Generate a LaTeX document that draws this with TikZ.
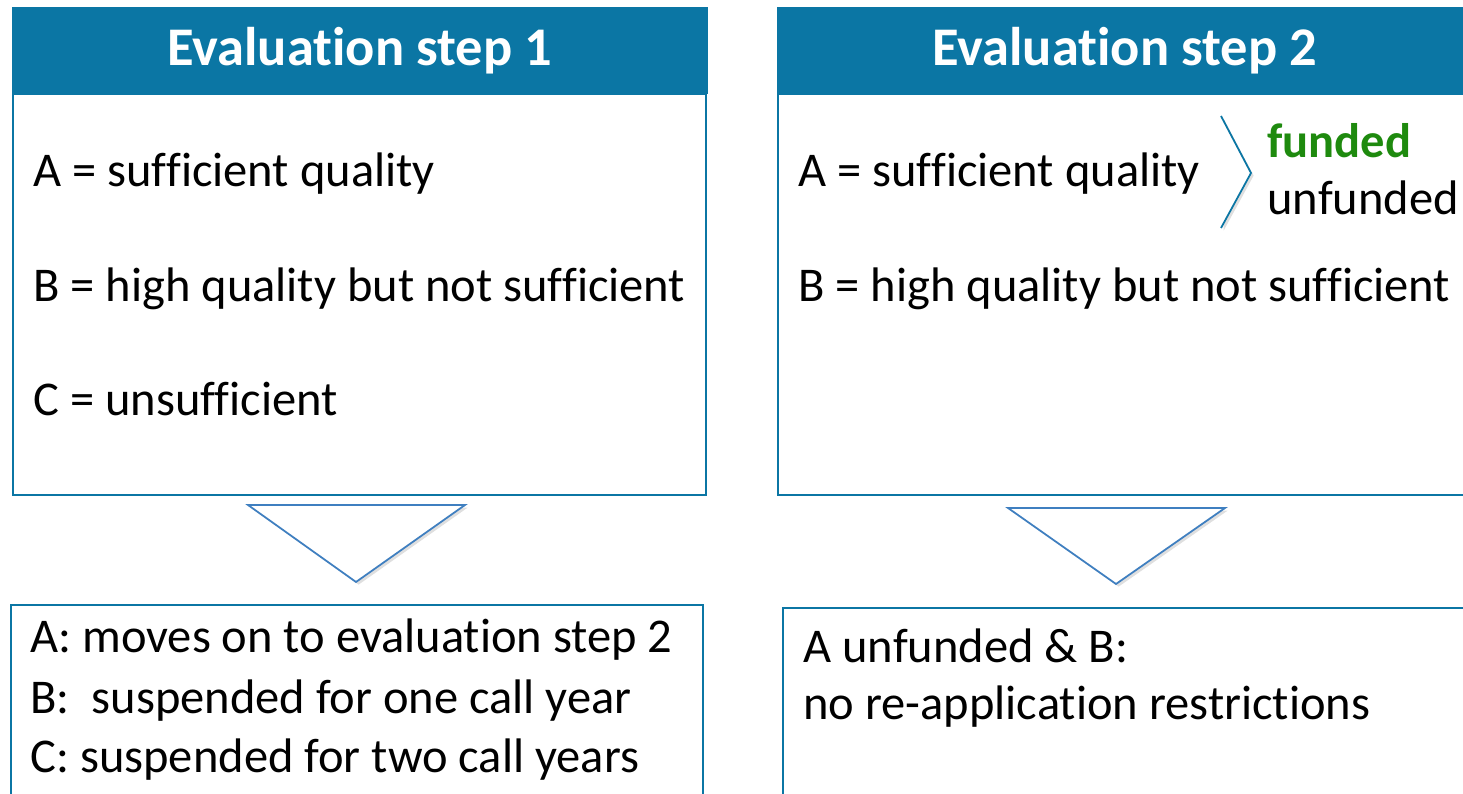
\documentclass[tikz,border=0pt]{standalone}
\usepackage{fontspec}
\setmainfont[Ligatures=NoCommon, RawFeature={-calt;-clig}]{Carlito}
\usetikzlibrary{positioning,shadows}
\definecolor{headblue}{HTML}{0B76A4}
\definecolor{arrowblue}{HTML}{3F7FC0}
\definecolor{fundgreen}{HTML}{1E8A0E}
\tikzset{
  headbox/.style={rectangle, fill=headblue, draw=headblue, text=white, font=\fontsize{31}{36}\selectfont\bfseries, anchor=north west, inner sep=0pt},
  panel/.style={rectangle, draw=headblue, line width=1.2pt, anchor=north west, inner sep=0pt},
  item/.style={anchor=base west, inner sep=0pt, font=\fontsize{27.6}{34}\selectfont},
  chevron/.style={draw=arrowblue, fill=white, line width=1pt, line join=miter,
                  drop shadow={opacity=0.25, shadow xshift=1.5pt, shadow yshift=-1.5pt}},
}
\begin{document}
\begin{tikzpicture}[x=0.02cm, y=0.02cm]
\useasboundingbox (0,0) rectangle (1463,794);
\clip (0,0) rectangle (1463,794);
%Boxes
\node[panel, minimum width=13.86cm, minimum height=8.02cm] (box1) at (12,701) {};
\node[headbox, minimum width=13.9cm, minimum height=1.72cm] (head1) at (12,787) {Evaluation step 1};
\node[panel, minimum width=13.9cm, minimum height=8.02cm] (box2) at (777,701) {};
\node[headbox, minimum width=13.9cm, minimum height=1.72cm] (head2) at (777,787) {Evaluation step 2};
\node[panel, minimum width=13.84cm, minimum height=4cm] (res1) at (10,190) {};
\node[panel, minimum width=13.9cm, minimum height=4cm] (res2) at (782,187) {};

%Texts
\node[item] (a1) at (33,607) {A = sufficient quality};
\node[item] (b1) at (33,492) {B = high quality but not sufficient};
\node[item] (c1) at (33,378) {C = unsufficient};
\node[item] (a2) at (798,607) {A = sufficient quality};
\node[item, text=fundgreen, font=\fontsize{27.6}{34}\selectfont\bfseries] (fund) at (1267,636) {funded};
\node[item] (unfund) at (1267,579) {unfunded};
\node[item] (b2) at (798,492) {B = high quality but not sufficient};
\node[item] (r1a) at (30,141) {A: moves on to evaluation step 2};
\node[item] (r1b) at (30,80) {B:\ \ suspended for one call year};
\node[item] (r1c) at (30,21) {C: suspended for two call years};
\node[item] (r2a) at (803,131) {A unfunded \& B:};
\node[item] (r2b) at (803,74) {no re-application restrictions};

%Chevrons
\coordinate (down1) at (356,212);
\coordinate (down2) at (1116,210);
\coordinate (side) at (1251,621);
\draw[chevron] (248,289) -- (465,289) -- (down1) -- cycle;
\draw[chevron] (1008,286) -- (1225,286) -- (down2) -- cycle;
\draw[chevron, draw=headblue] (1221,678) -- (side) -- (1221,566);
\end{tikzpicture}
\end{document}
